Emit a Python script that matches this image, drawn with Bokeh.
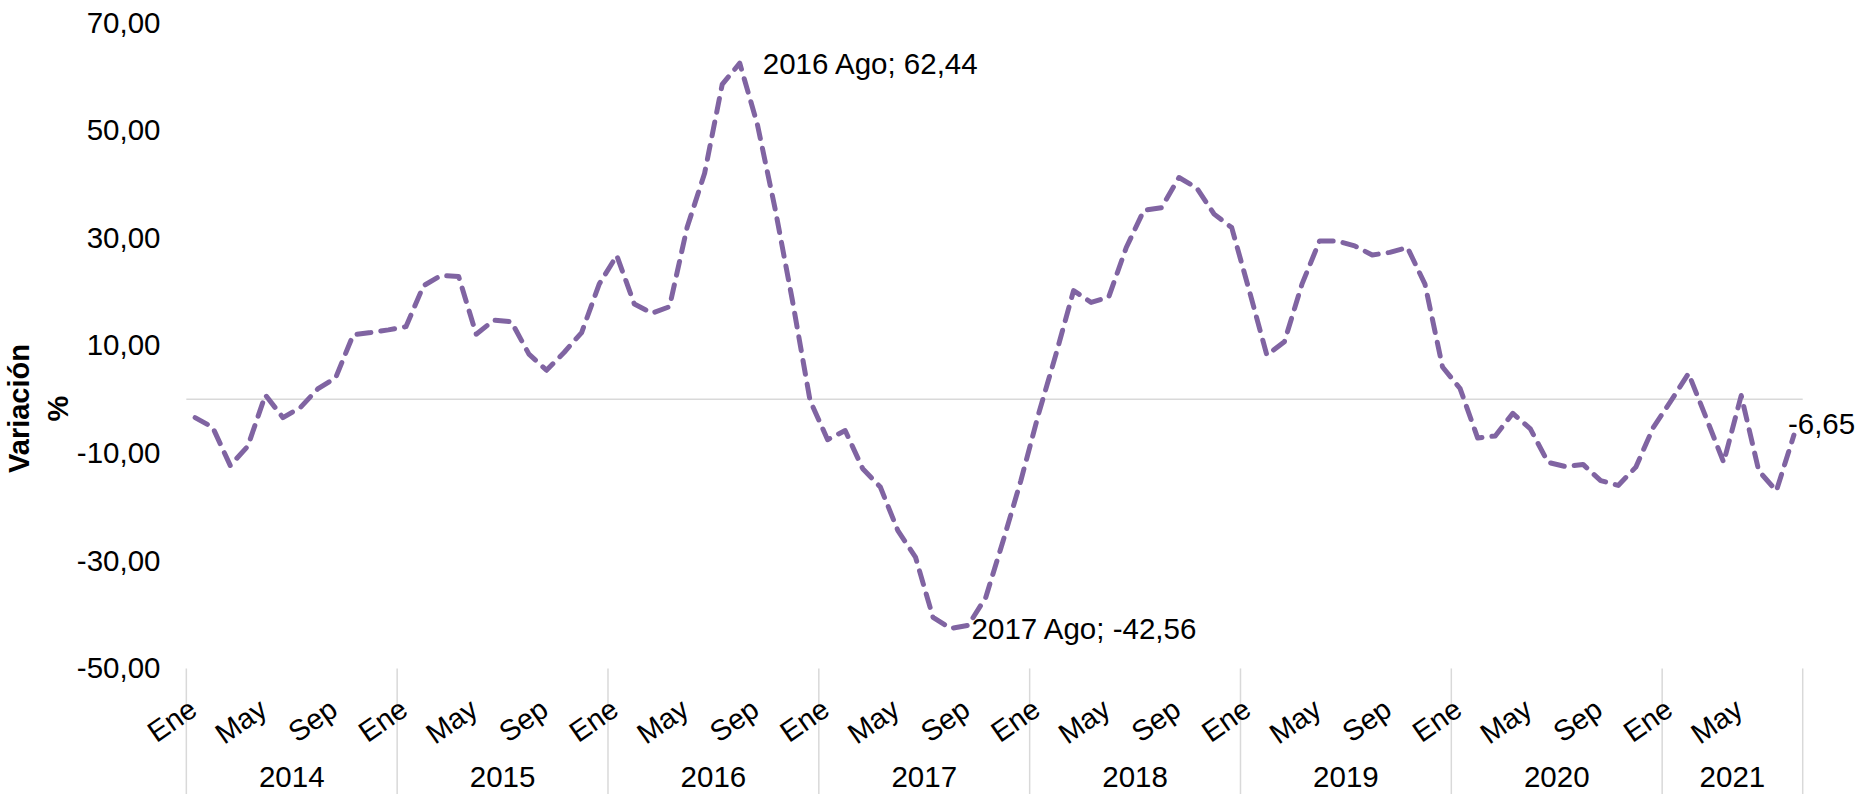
import math
from bokeh.plotting import figure
from bokeh.models import Range1d, FixedTicker, ColumnDataSource
from bokeh.core.properties import value
from bokeh.embed import file_html
from bokeh.resources import INLINE

# ---------------- data ----------------
years = [2014, 2015, 2016, 2017, 2018, 2019, 2020, 2021]
month_names = ["Ene", "Feb", "Mar", "Abr", "May", "Jun",
               "Jul", "Ago", "Sep", "Oct", "Nov", "Dic"]
shown_months = ["Ene", "May", "Sep"]

values_2014 = [-3.4, -5.2, -12.3, -8.7, 0.8, -3.4, -1.5, 2.0, 4.0, 12.0, 12.4, 12.9]
values_2015 = [13.5, 21.1, 23.0, 22.8, 12.1, 14.7, 14.4, 8.4, 5.4, 8.7, 12.4, 21.4]
values_2016 = [26.7, 17.7, 16.0, 17.2, 31.9, 42.0, 58.5, 62.44, 51.1, 35.6, 18.3, -0.2]
values_2017 = [-7.5, -5.8, -12.9, -16.3, -24.4, -29.3, -40.5, -42.56, -42.0, -36.8, -26.2, -15.1]
values_2018 = [-2.8, 8.4, 20.2, 18.0, 19.0, 28.2, 35.1, 35.6, 41.2, 39.3, 34.4, 31.9]
values_2019 = [20.2, 8.2, 10.7, 21.4, 29.4, 29.4, 28.5, 26.8, 27.3, 28.2, 21.4, 6.0]
values_2020 = [2.0, -7.2, -6.8, -2.6, -5.5, -11.7, -12.5, -12.1, -15.1, -16.0, -12.6, -5.2]
values_2021 = [-0.3, 4.8, -3.4, -11.7, 0.7, -13.3, -17.0, -6.65]

y_ticks = [-50, -30, -10, 10, 30, 50, 70]
y_tick_labels = ["-50,00", "-30,00", "-10,00", "10,00", "30,00", "50,00", "70,00"]
y_title = "Variación\n%"

# ---------------- styling / layout ----------------
FONT = "Liberation Sans"
FS = "29.5px"
LINE_COLOR = "#8064A2"
GRID_COLOR = "#D9D9D9"
W, H = 1860, 794
FRAME_LEFT, FRAME_TOP = 120, 22     # frame starts left of the category area
AREA_LEFT = 181                     # left edge of the category area (x = 0)
PX_PER_MONTH = 17.62
PX_PER_UNIT = 5.383

series = [values_2014, values_2015, values_2016, values_2017,
          values_2018, values_2019, values_2020, values_2021]
vals, xs, yr_of, mon_of = [], [], [], []
for yr, arr in zip(years, series):
    for m, v in enumerate(arr):
        xs.append(len(vals) + 0.5)
        vals.append(v)
        yr_of.append(yr)
        mon_of.append(month_names[m])
n = len(vals)

y_max = max(y_ticks)
y_min = min(y_ticks)
X_START = -(AREA_LEFT - FRAME_LEFT) / PX_PER_MONTH
X_END = (W - AREA_LEFT) / PX_PER_MONTH
Y_START = y_max - (H - FRAME_TOP) / PX_PER_UNIT

def fmt(v):
    return f"{v:.2f}".replace(".", ",")

p = figure(width=W, height=H, x_range=Range1d(X_START, X_END), y_range=Range1d(Y_START, y_max),
           output_backend="svg", toolbar_location=None, x_axis_location=None,
           min_border_left=FRAME_LEFT, min_border_right=0, min_border_top=FRAME_TOP,
           min_border_bottom=0, title=None)
p.outline_line_color = None
p.grid.visible = False
p.background_fill_color = "white"

ax = p.yaxis[0]
ax.ticker = FixedTicker(ticks=y_ticks)
ax.major_label_overrides = {t: l for t, l in zip(y_ticks, y_tick_labels)}
ax.axis_line_color = None
ax.major_tick_line_color = None
ax.minor_tick_line_color = None
ax.major_tick_out = 0
ax.major_tick_in = 0
ax.major_label_standoff = FRAME_LEFT - 155
ax.major_label_text_font = FONT
ax.major_label_text_font_size = FS
ax.major_label_text_color = "black"
ax.axis_label = y_title
ax.axis_label_text_font = FONT
ax.axis_label_text_font_size = "29px"
ax.axis_label_text_font_style = "bold"
ax.axis_label_text_color = "black"
ax.axis_label_standoff = 0

# zero line
p.segment(x0=[0], y0=[0], x1=[n], y1=[0], line_color=GRID_COLOR, line_width=1.5)

# year separators below the plot area
bounds = list(range(0, n, 12)) + [n]
p.segment(x0=bounds, y0=[y_min] * len(bounds), x1=bounds, y1=[Y_START] * len(bounds),
          line_color=GRID_COLOR, line_width=1.5)

# series line
p.line(xs, vals, line_color=LINE_COLOR, line_width=5, line_dash="14 10",
       line_cap="round", line_join="round")

# month labels
mx = [x for x, mo in zip(xs, mon_of) if mo in shown_months]
mt = [mo for mo in mon_of if mo in shown_months]
p.text(x=mx, y=[y_min] * len(mx), text=mt, angle=math.radians(35),
       text_align="right", text_baseline="middle", x_offset=-2, y_offset=37,
       text_font=value(FONT), text_font_size="29px", text_color="black")

# year labels
ycx, ylab = [], []
for k, yr in enumerate(years):
    ycx.append((bounds[k] + bounds[k + 1]) / 2)
    ylab.append(str(yr))
p.text(x=ycx, y=[y_min] * len(ycx), text=ylab, text_align="center",
       text_baseline="middle", y_offset=109,
       text_font=value(FONT), text_font_size=FS, text_color="black")

# data labels
imax = vals.index(max(vals))
imin = vals.index(min(vals))
ilast = n - 1
lab_src = ColumnDataSource(dict(
    x=[xs[imax], xs[imin], xs[ilast]],
    y=[vals[imax], vals[imin], vals[ilast]],
    text=[f"{yr_of[imax]} {mon_of[imax]}; {fmt(vals[imax])}",
          f"{yr_of[imin]} {mon_of[imin]}; {fmt(vals[imin])}",
          fmt(vals[ilast])],
    xo=[23, 21, -6],
    yo=[0, 0, -11],
))
p.text(x="x", y="y", text="text", x_offset="xo", y_offset="yo", source=lab_src,
       text_align="left", text_baseline="middle",
       text_font=value(FONT), text_font_size=FS, text_color="black")

open("out.html", "w").write(file_html(p, INLINE))
